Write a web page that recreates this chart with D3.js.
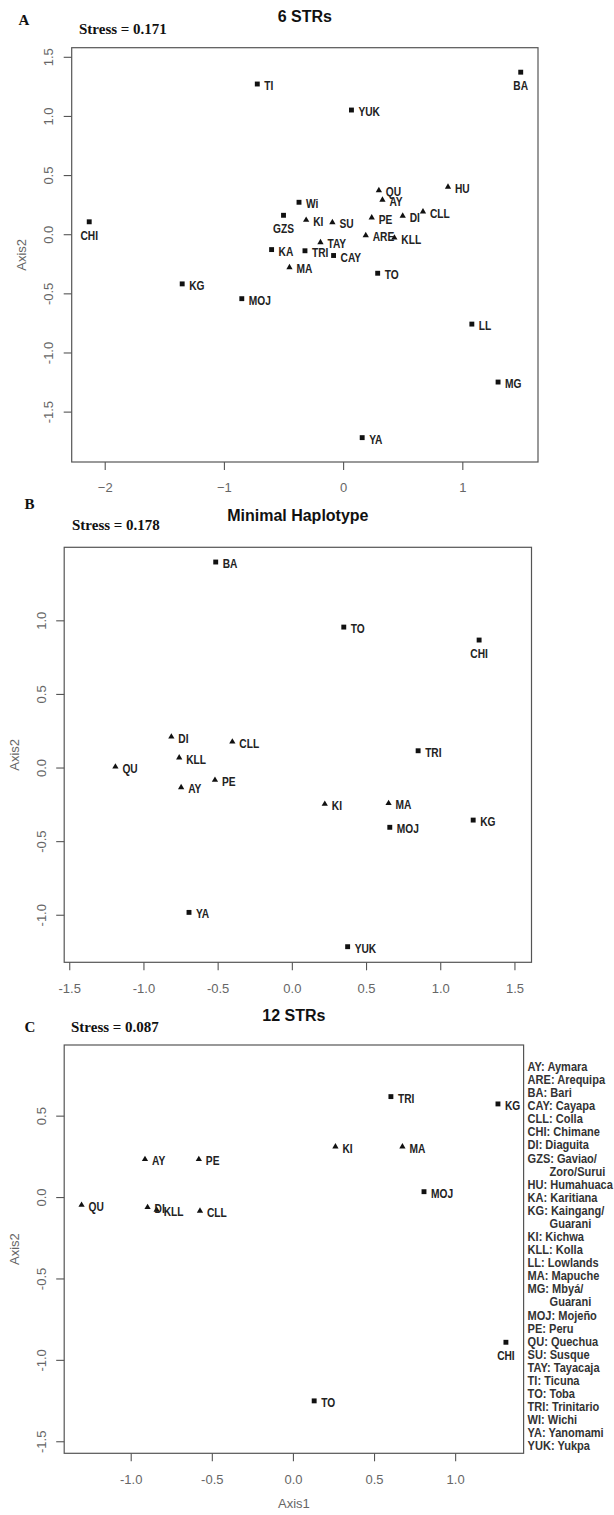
<!DOCTYPE html>
<html>
<head>
<meta charset="utf-8">
<script src="https://cdn.jsdelivr.net/npm/d3@7"></script>
<style>
  body { margin: 0; background: #fff; }
  svg { display: block; }
  .tick text { font-family: "Liberation Sans", Arial, sans-serif; font-size: 13px; fill: #666; }
  .tick line { stroke: #555; stroke-width: 1.1; }
  .axis-label { font-family: "Liberation Sans", Arial, sans-serif; font-size: 13px; fill: #666; }
  .panel-title { font-family: "Liberation Sans", Arial, sans-serif; font-size: 16px; font-weight: bold; fill: #111; }
  .serif { font-family: "Liberation Serif", "Times New Roman", serif; font-weight: bold; fill: #111; }
  .pop-label { font-family: "Liberation Sans", Arial, sans-serif; font-size: 12px; font-weight: bold; fill: #222; }
  .legend-text { font-family: "Liberation Sans", Arial, sans-serif; font-size: 13px; font-weight: bold; fill: #333; }
</style>
</head>
<body>
<script>
// Andean groups drawn with triangles, the rest with squares
var trianglePops = ["QU", "HU", "AY", "CLL", "DI", "PE", "KI", "SU", "ARE", "KLL", "TAY", "MA"];

// A: 6 STRs
var pops6 = ["TI", "YUK", "BA", "QU", "HU", "AY", "Wi", "CLL", "GZS", "DI", "PE", "KI", "SU", "CHI",
             "ARE", "KLL", "TAY", "KA", "TRI", "CAY", "MA", "TO", "KG", "MOJ", "LL", "MG", "YA"];
var axis1_6 = [-0.72, 0.07, 1.49, 0.30, 0.88, 0.33, -0.37, 0.67, -0.50, 0.50, 0.24, -0.31, -0.09, -2.13,
               0.19, 0.43, -0.19, -0.60, -0.32, -0.08, -0.45, 0.29, -1.35, -0.85, 1.08, 1.30, 0.16];
var axis2_6 = [1.27, 1.05, 1.37, 0.37, 0.40, 0.29, 0.27, 0.19, 0.16, 0.155, 0.14, 0.12, 0.10, 0.105,
               -0.01, -0.03, -0.07, -0.13, -0.14, -0.18, -0.28, -0.33, -0.42, -0.545, -0.76, -1.25, -1.72];
var below6 = ["BA", "GZS", "CHI"];

// B: Minimal Haplotype
var popsMH = ["BA", "TO", "CHI", "DI", "CLL", "TRI", "KLL", "QU", "PE", "AY", "KI", "MA", "KG", "MOJ", "YA", "YUK"];
var axis1_MH = [-0.513, 0.35, 1.262, -0.812, -0.401, 0.851, -0.759, -1.189, -0.518, -0.746, 0.222, 0.652, 1.222, 0.66, -0.693, 0.376];
var axis2_MH = [1.396, 0.954, 0.866, 0.209, 0.175, 0.114, 0.067, 0.005, -0.085, -0.135, -0.248, -0.243, -0.357, -0.406, -0.984, -1.217];
var belowMH = ["CHI"];

// C: 12 STRs
var pops12 = ["TRI", "KG", "KI", "MA", "AY", "PE", "MOJ", "QU", "DI", "KLL", "CLL", "CHI", "TO"];
var axis1_12 = [0.604, 1.264, 0.262, 0.675, -0.912, -0.580, 0.808, -1.303, -0.896, -0.840, -0.573, 1.313, 0.131];
var axis2_12 = [0.617, 0.572, 0.310, 0.310, 0.232, 0.232, 0.033, -0.049, -0.063, -0.079, -0.085, -0.892, -1.252];
var below12 = ["CHI"];

var legendEntries = [
  ["AY", "Aymara"], ["ARE", "Arequipa"], ["BA", "Bari"], ["CAY", "Cayapa"], ["CLL", "Colla"],
  ["CHI", "Chimane"], ["DI", "Diaguita"], ["GZS", "Gaviao/", "Zoro/Surui"], ["HU", "Humahuaca"],
  ["KA", "Karitiana"], ["KG", "Kaingang/", "Guarani"], ["KI", "Kichwa"], ["KLL", "Kolla"],
  ["LL", "Lowlands"], ["MA", "Mapuche"], ["MG", "Mbyá/", "Guarani"], ["MOJ", "Mojeño"],
  ["PE", "Peru"], ["QU", "Quechua"], ["SU", "Susque"], ["TAY", "Tayacaja"], ["TI", "Ticuna"],
  ["TO", "Toba"], ["TRI", "Trinitario"], ["WI", "Wichi"], ["YA", "Yanomami"], ["YUK", "Yukpa"]
];

var svg = d3.select("body").append("svg")
    .attr("width", 614)
    .attr("height", 1515);

var panels = [
  {letter: "A", title: "6 STRs", stress: "Stress = 0.171",
   pops: pops6, xs: axis1_6, ys: axis2_6, below: below6,
   box: {left: 71.7, right: 538, top: 47.7, bottom: 462},
   xDomain: [-2.277, 1.635], yDomain: [-1.926, 1.577],
   xTicks: [-2, -1, 0, 1], yTicks: [-1.5, -1, -0.5, 0, 0.5, 1, 1.5], xFmt: d3.format("d"),
   letterPos: [24, 25], stressPos: [79, 34], titleY: 21.5, xlab: false},
  {letter: "B", title: "Minimal Haplotype", stress: "Stress = 0.178",
   pops: popsMH, xs: axis1_MH, ys: axis2_MH, below: belowMH,
   box: {left: 64.2, right: 531.5, top: 547.3, bottom: 962.3},
   xDomain: [-1.534, 1.615], yDomain: [-1.323, 1.496],
   xTicks: [-1.5, -1, -0.5, 0, 0.5, 1, 1.5], yTicks: [-1, -0.5, 0, 0.5, 1], xFmt: function(d) { return d.toFixed(1); },
   letterPos: [29.5, 509], stressPos: [72, 530], titleY: 521, xlab: false},
  {letter: "C", title: "12 STRs", stress: "Stress = 0.087",
   pops: pops12, xs: axis1_12, ys: axis2_12, below: below12,
   box: {left: 64.2, right: 523.6, top: 1045, bottom: 1453.3},
   xDomain: [-1.41, 1.422], yDomain: [-1.574, 0.934],
   xTicks: [-1, -0.5, 0, 0.5, 1], yTicks: [-1.5, -1, -0.5, 0, 0.5], xFmt: function(d) { return d.toFixed(1); },
   letterPos: [30, 1032], stressPos: [71, 1032], titleY: 1020.5, xlab: true}
];

function drawPanel(p) {
    var box = p.box;
    var x = d3.scaleLinear().domain(p.xDomain).range([box.left, box.right]);
    var y = d3.scaleLinear().domain(p.yDomain).range([box.bottom, box.top]);
    var g = svg.append("g");

    g.append("text")
        .attr("class", "serif")
        .attr("x", p.letterPos[0])
        .attr("y", p.letterPos[1])
        .attr("text-anchor", "middle")
        .style("font-size", "15px")
        .text(p.letter);

    g.append("text")
        .attr("class", "serif")
        .attr("x", p.stressPos[0])
        .attr("y", p.stressPos[1])
        .style("font-size", "15px")
        .text(p.stress);

    g.append("text")
        .attr("class", "panel-title")
        .attr("x", (box.left + box.right) / 2)
        .attr("y", p.titleY)
        .attr("text-anchor", "middle")
        .text(p.title);

    var xAxis = g.append("g")
        .attr("transform", "translate(0," + box.bottom + ")")
        .call(d3.axisBottom(x).tickValues(p.xTicks).tickSize(8).tickPadding(13).tickFormat(p.xFmt));
    xAxis.select(".domain").remove();

    var yAxis = g.append("g")
        .attr("transform", "translate(" + box.left + ",0)")
        .call(d3.axisLeft(y).tickValues(p.yTicks).tickSize(8).tickFormat(function(d) { return d.toFixed(1); }));
    yAxis.select(".domain").remove();
    yAxis.selectAll("text")
        .attr("x", null)
        .attr("dy", null)
        .attr("text-anchor", "middle")
        .attr("dominant-baseline", "central")
        .attr("transform", "translate(-23,0) rotate(-90)");

    g.append("rect")
        .attr("x", box.left)
        .attr("y", box.top)
        .attr("width", box.right - box.left)
        .attr("height", box.bottom - box.top)
        .attr("fill", "none")
        .attr("stroke", "#555")
        .attr("stroke-width", 1.2);

    g.append("text")
        .attr("class", "axis-label")
        .attr("text-anchor", "middle")
        .attr("dominant-baseline", "central")
        .attr("transform", "translate(" + (box.left - 50) + "," + ((box.top + box.bottom) / 2) + ") rotate(-90)")
        .text("Axis2");

    if (p.xlab) {
        g.append("text")
            .attr("class", "axis-label")
            .attr("x", (box.left + box.right) / 2)
            .attr("y", box.bottom + 55)
            .attr("text-anchor", "middle")
            .text("Axis1");
    }

    var pts = p.pops.map(function(name, i) { return {name: name, x: p.xs[i], y: p.ys[i]}; });

    g.selectAll("path.pt")
        .data(pts)
        .enter()
        .append("path")
        .attr("class", "pt")
        .attr("transform", function(d) { return "translate(" + x(d.x) + "," + y(d.y) + ")"; })
        .attr("d", function(d) {
            var tri = trianglePops.indexOf(d.name) >= 0;
            return d3.symbol().type(tri ? d3.symbolTriangle : d3.symbolSquare).size(tri ? 17 : 24)();
        })
        .style("fill", "#111");

    g.selectAll("text.pop-label")
        .data(pts)
        .enter()
        .append("text")
        .attr("class", "pop-label")
        .attr("text-anchor", function(d) { return p.below.indexOf(d.name) >= 0 ? "middle" : "start"; })
        .attr("transform", function(d) {
            var under = p.below.indexOf(d.name) >= 0;
            var lx = under ? x(d.x) : x(d.x) + 7;
            var ly = under ? y(d.y) + 18 : y(d.y) + 6;
            return "translate(" + lx + "," + ly + ") scale(0.85,1)";
        })
        .text(function(d) { return d.name; });
}

panels.forEach(drawPanel);

// legend for panel C
var legendLines = [];
legendEntries.forEach(function(e) {
    legendLines.push({text: e[0] + ": " + e[1], indent: 0});
    if (e.length > 2) legendLines.push({text: e[2], indent: 22});
});

svg.append("g")
    .selectAll("text")
    .data(legendLines)
    .enter()
    .append("text")
    .attr("class", "legend-text")
    .attr("transform", function(d, i) { return "translate(" + (527.6 + d.indent) + "," + (1071 + i * 13.08) + ") scale(0.85,1)"; })
    .text(function(d) { return d.text; });
</script>
</body>
</html>
